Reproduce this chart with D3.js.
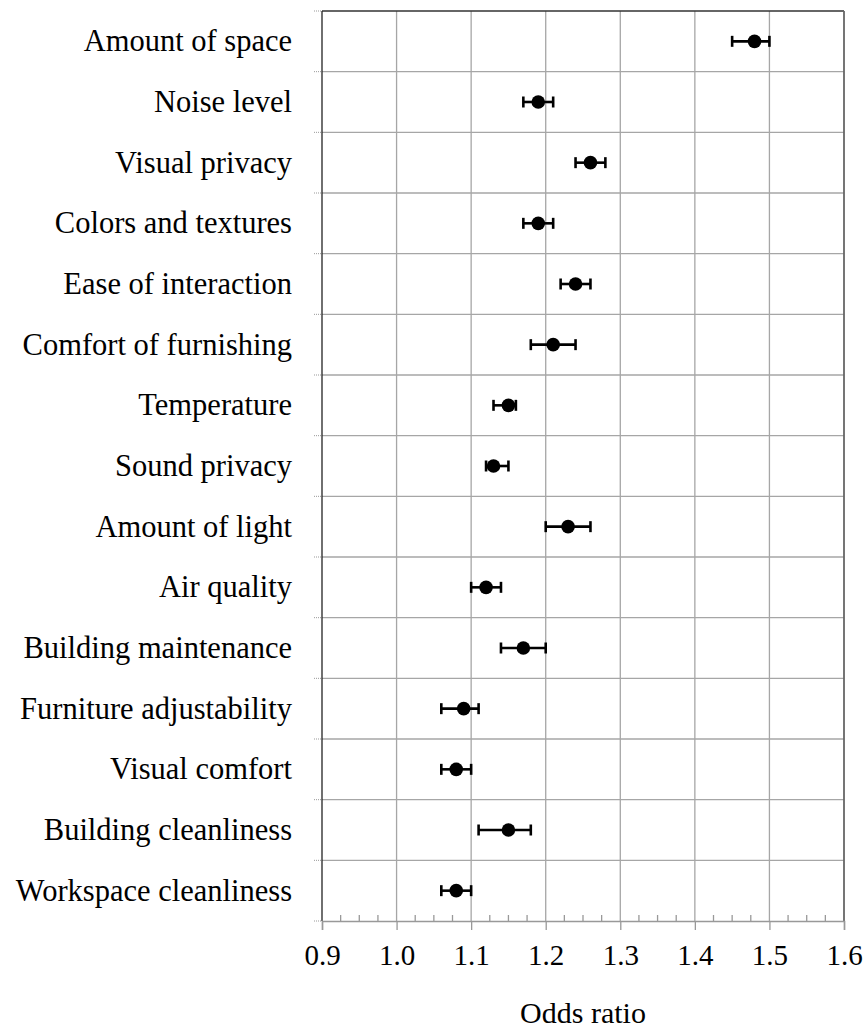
<!DOCTYPE html>
<html>
<head>
<meta charset="utf-8">
<script src="https://cdn.jsdelivr.net/npm/d3@7"></script>
<style>
  body { margin: 0; background: #fff; }
  text { font-family: "Liberation Serif", "Times New Roman", serif; fill: #000; }
</style>
</head>
<body>
<script>
const factors = ["Amount of space", "Noise level", "Visual privacy", "Colors and textures",
  "Ease of interaction", "Comfort of furnishing", "Temperature", "Sound privacy",
  "Amount of light", "Air quality", "Building maintenance", "Furniture adjustability",
  "Visual comfort", "Building cleanliness", "Workspace cleanliness"];
const oddsRatio = [1.48, 1.19, 1.26, 1.19, 1.24, 1.21, 1.15, 1.13, 1.23, 1.12, 1.17, 1.09, 1.08, 1.15, 1.08];
const ciLow     = [1.45, 1.17, 1.24, 1.17, 1.22, 1.18, 1.13, 1.12, 1.20, 1.10, 1.14, 1.06, 1.06, 1.11, 1.06];
const ciHigh    = [1.50, 1.21, 1.28, 1.21, 1.26, 1.24, 1.16, 1.15, 1.26, 1.14, 1.20, 1.11, 1.10, 1.18, 1.10];
const xTicks = [0.9, 1.0, 1.1, 1.2, 1.3, 1.4, 1.5, 1.6];

const width = 866, height = 1028;
const pl = 322, pr = 844, pt = 11, pb = 921;

const rows = factors.map((f, i) => ({ name: f, or: oddsRatio[i], lo: ciLow[i], hi: ciHigh[i] }));

const svg = d3.select("body").append("svg").attr("width", width).attr("height", height);

const x = d3.scaleLinear().domain([0.9, 1.6]).range([pl, pr]);
const y = d3.scaleBand().domain(factors).range([pt, pb]);

// grid
svg.append("g").selectAll("line")
    .data(xTicks.slice(1, -1)).enter()
    .append("line")
    .attr("x1", d => x(d)).attr("x2", d => x(d))
    .attr("y1", pt).attr("y2", pb)
    .style("stroke", "#a6a6a6").style("stroke-width", 1.3);

svg.append("g").selectAll("line")
    .data(factors.slice(1)).enter()
    .append("line")
    .attr("x1", pl).attr("x2", pr)
    .attr("y1", d => y(d)).attr("y2", d => y(d))
    .style("stroke", "#a6a6a6").style("stroke-width", 1.3);

// frame
svg.append("line").attr("x1", pl).attr("x2", pr).attr("y1", pt).attr("y2", pt)
    .style("stroke", "#333").style("stroke-width", 1.5);
svg.append("line").attr("x1", pr).attr("x2", pr).attr("y1", pt).attr("y2", pb)
    .style("stroke", "#666").style("stroke-width", 1.8);
svg.append("line").attr("x1", pl).attr("x2", pl).attr("y1", pt).attr("y2", pb)
    .style("stroke", "#222").style("stroke-width", 1.3);

// tiny dotted ticks left of y axis
svg.append("g").selectAll("line")
    .data(d3.range(factors.length + 1)).enter()
    .append("line")
    .attr("x1", pl - 8).attr("x2", pl)
    .attr("y1", d => pt + d * y.step()).attr("y2", d => pt + d * y.step())
    .style("stroke", "#999").style("stroke-width", 1).style("stroke-dasharray", "1,1");

// x axis, minor ticks every 0.025 pointing up
const xAxis = svg.append("g").attr("transform", `translate(0,${pb})`)
    .call(d3.axisBottom(x).tickValues(xTicks).tickFormat(d3.format(".1f")).tickSize(9).tickPadding(14));
xAxis.select(".domain").style("stroke", "#999").style("stroke-width", 1.5);
xAxis.selectAll(".tick line").style("stroke", "#999").style("stroke-width", 1.3);
xAxis.selectAll("text").style("font-size", "29px").style("font-family", "Liberation Serif, serif");

const minor = d3.range(0, 28).filter(i => i % 4 !== 0).map(i => 0.9 + i * 0.025);
svg.append("g").selectAll("line")
    .data(minor).enter()
    .append("line")
    .attr("x1", d => x(d)).attr("x2", d => x(d))
    .attr("y1", pb).attr("y2", pb - 6)
    .style("stroke", "#999").style("stroke-width", 1.3);

svg.append("text")
    .attr("x", (pl + pr) / 2).attr("y", 1023)
    .attr("text-anchor", "middle")
    .style("font-size", "30px")
    .text("Odds ratio");

// category labels
svg.append("g").selectAll("text")
    .data(rows).enter()
    .append("text")
    .attr("x", 292)
    .attr("y", d => y(d.name) + y.bandwidth() / 2 + 10)
    .attr("text-anchor", "end")
    .style("font-size", "30.5px")
    .text(d => d.name);

// error bars
const bars = svg.append("g").selectAll("g")
    .data(rows).enter()
    .append("g")
    .attr("transform", d => `translate(0,${y(d.name) + y.bandwidth() / 2})`);

bars.append("line")
    .attr("x1", d => x(d.lo)).attr("x2", d => x(d.hi))
    .attr("y1", 0).attr("y2", 0)
    .style("stroke", "#000").style("stroke-width", 2.6);
bars.append("line")
    .attr("x1", d => x(d.lo)).attr("x2", d => x(d.lo))
    .attr("y1", -5.5).attr("y2", 5.5)
    .style("stroke", "#000").style("stroke-width", 2.6);
bars.append("line")
    .attr("x1", d => x(d.hi)).attr("x2", d => x(d.hi))
    .attr("y1", -5.5).attr("y2", 5.5)
    .style("stroke", "#000").style("stroke-width", 2.6);
bars.append("circle")
    .attr("cx", d => x(d.or)).attr("cy", 0)
    .attr("r", 6.8)
    .style("fill", "#000");
</script>
</body>
</html>
